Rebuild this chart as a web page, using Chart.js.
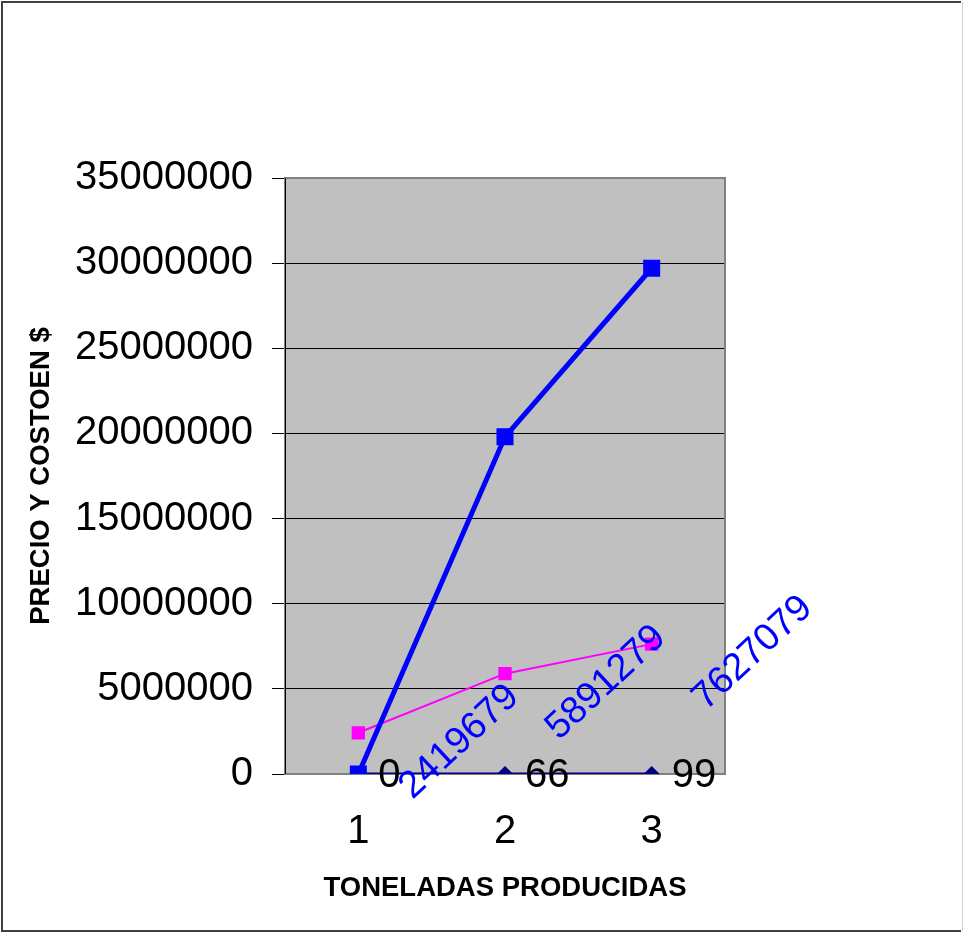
<!DOCTYPE html>
<html>
<head>
<meta charset="utf-8">
<script src="https://cdn.jsdelivr.net/npm/chart.js@4"></script>
<style>
  body { margin: 0; background: #fff; }
  canvas { display: block; }
</style>
</head>
<body>
<canvas id="myCanvas" width="963" height="933"></canvas>
<script>
// datos
var categorias = ['1', '2', '3'];
var toneladas = [0, 66, 99];
var costo = [2419679, 5891279, 7627079];
var ingreso = [0, 19800000, 29700000];
var yMin = 0, yMax = 35000000, yPaso = 5000000;

var fuente = "'Liberation Sans', Arial, sans-serif";

var fondo = {
  id: 'fondo',
  beforeDraw: function(chart){
    var c = chart.ctx, a = chart.chartArea;
    c.save();
    c.fillStyle = '#fff';
    c.fillRect(0, 0, chart.width, chart.height);
    c.fillStyle = '#c0c0c0';
    c.fillRect(a.left, a.top, a.right - a.left, a.bottom - a.top);
    c.restore();
  },
  beforeDatasetsDraw: function(chart){
    var c = chart.ctx, a = chart.chartArea;
    c.save();
    c.strokeStyle = '#808080';
    c.lineWidth = 2;
    c.strokeRect(a.left, a.top, a.right - a.left, a.bottom - a.top);
    c.strokeStyle = '#000';
    c.lineWidth = 1;
    c.beginPath();
    c.moveTo(a.left + 0.5, a.top);
    c.lineTo(a.left + 0.5, a.bottom);
    c.stroke();
    c.restore();
  },
  afterDraw: function(chart){
    var c = chart.ctx;
    c.save();
    c.lineWidth = 2;
    c.strokeStyle = '#404040';
    c.beginPath();
    c.moveTo(961, 931);
    c.lineTo(2, 931);
    c.lineTo(2, 2);
    c.lineTo(961, 2);
    c.stroke();
    c.strokeStyle = '#d0d0d0';
    c.lineWidth = 1;
    c.beginPath();
    c.moveTo(962.5, 2);
    c.lineTo(962.5, 931);
    c.stroke();
    c.restore();
  }
};

var etiquetas = {
  id: 'etiquetas',
  afterDatasetsDraw: function(chart){
    var c = chart.ctx;
    c.save();
    // toneladas: texto negro a la derecha del punto
    var m0 = chart.getDatasetMeta(0);
    c.fillStyle = '#000';
    c.font = '40px ' + fuente;
    c.textAlign = 'left';
    c.textBaseline = 'middle';
    m0.data.forEach(function(p, i){
      c.fillText(String(toneladas[i]), p.x + 20, p.y + 2);
    });
    // costo: texto azul girado
    var m1 = chart.getDatasetMeta(1);
    c.fillStyle = '#0000ff';
    c.font = '38px ' + fuente;
    c.textAlign = 'center';
    m1.data.forEach(function(p, i){
      c.save();
      c.translate(p.x + 101, p.y + 9);
      c.rotate(-43 * Math.PI / 180);
      c.fillText(String(costo[i]), 0, 0);
      c.restore();
    });
    c.restore();
  }
};

var ctx = document.getElementById('myCanvas');
var grafico = new Chart(ctx, {
  type: 'line',
  data: {
    labels: categorias,
    datasets: [
      {
        label: 'Toneladas',
        data: toneladas,
        borderColor: '#000080',
        backgroundColor: '#000080',
        borderWidth: 3,
        pointStyle: 'rectRot',
        pointRadius: 6,
        order: 3
      },
      {
        label: 'Costo',
        data: costo,
        borderColor: '#ff00ff',
        backgroundColor: '#ff00ff',
        borderWidth: 2,
        pointStyle: 'rect',
        pointRadius: 8,
        order: 2
      },
      {
        label: 'Ingreso',
        data: ingreso,
        borderColor: '#0000ff',
        backgroundColor: '#0000ff',
        borderWidth: 5,
        pointStyle: 'rect',
        pointRadius: 8.5,
        order: 1
      }
    ]
  },
  options: {
    responsive: false,
    animation: false,
    layout: { padding: { top: 178, right: 238, left: 0, bottom: 0 } },
    plugins: {
      legend: { display: false },
      tooltip: { enabled: false }
    },
    elements: { line: { tension: 0 } },
    scales: {
      x: {
        offset: true,
        grid: { display: false, drawTicks: false },
        border: { display: false },
        ticks: { color: '#000', padding: 34, font: { size: 40, family: fuente } },
        title: {
          display: true,
          text: 'TONELADAS PRODUCIDAS',
          color: '#000',
          font: { size: 27.5, weight: 'bold', family: fuente },
          padding: { top: 0, bottom: 28 }
        },
        afterFit: function(s){ s.height = 159; }
      },
      y: {
        min: yMin,
        max: yMax,
        ticks: {
          stepSize: yPaso,
          color: '#000',
          padding: 19,
          font: { size: 40, family: fuente },
          callback: function(v){ return String(v); }
        },
        grid: { color: '#000', lineWidth: 1, tickLength: 13, drawTicks: true },
        border: { display: true, color: '#000' },
        title: {
          display: true,
          text: 'PRECIO Y COSTOEN $',
          color: '#000',
          font: { size: 27.5, weight: 'bold', family: fuente },
          padding: { top: 25, bottom: 0 }
        },
        afterFit: function(s){ s.width = 285; }
      }
    }
  },
  plugins: [fondo, etiquetas]
});
</script>
</body>
</html>
